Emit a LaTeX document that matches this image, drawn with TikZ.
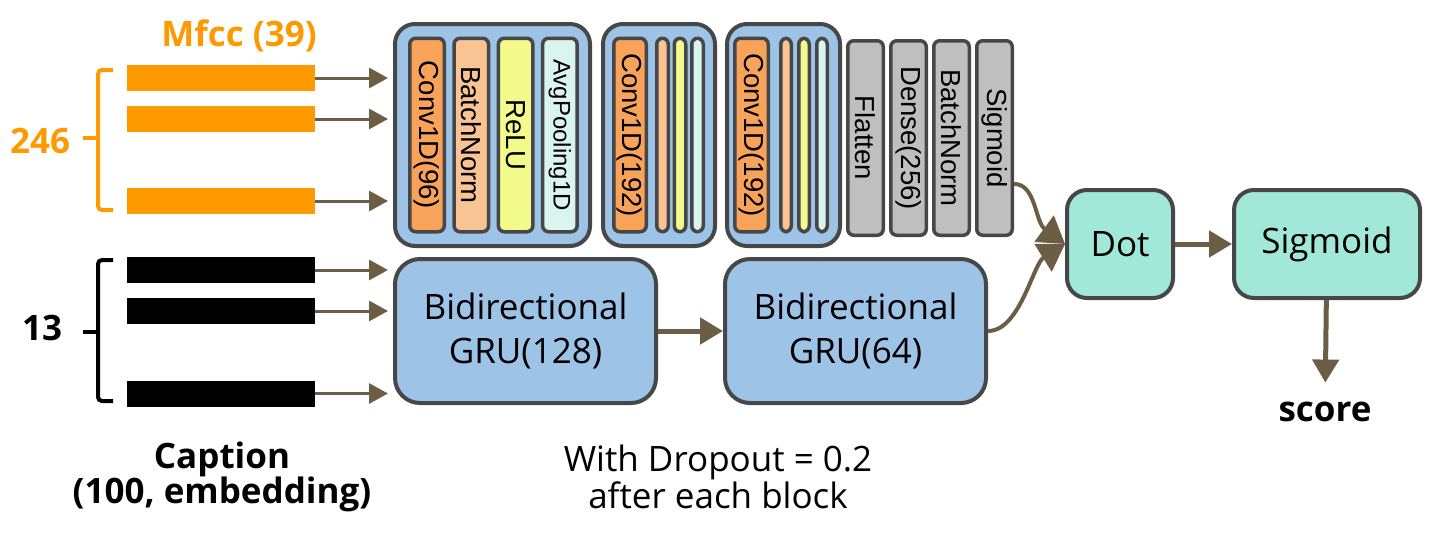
\documentclass[tikz,border=0pt]{standalone}
\usepackage{fontspec}
\setmainfont{Open Sans}
\newfontfamily\layerfont{Liberation Sans}
\usepackage{graphicx}
\usetikzlibrary{arrows.meta, positioning}
\definecolor{mfcc}{HTML}{FF9900}
\definecolor{edge}{HTML}{474747}
\definecolor{blockblue}{HTML}{9DC3E6}
\definecolor{convc}{HTML}{F9A25A}
\definecolor{bnc}{HTML}{F9C393}
\definecolor{reluc}{HTML}{F3FA8C}
\definecolor{poolc}{HTML}{DAF5F0}
\definecolor{densec}{HTML}{BFBFBF}
\definecolor{mint}{HTML}{A1E8D8}
\definecolor{wire}{HTML}{6B5E45}
\tikzstyle{block}=[rectangle, rounded corners=20pt, draw=edge, fill=blockblue, line width=4pt, inner sep=0]
\tikzstyle{layer}=[rectangle, rounded corners=6pt, draw=edge, line width=3.5pt, minimum width=34.5pt, minimum height=193.5pt, inner sep=0, font=\layerfont\fontsize{27.5}{27.5}\selectfont]
\tikzstyle{thin}=[layer, minimum width=11.5pt]
\tikzstyle{dense}=[layer, fill=densec, minimum width=35.5pt, minimum height=194.5pt]
\tikzstyle{gru}=[block, rounded corners=25pt, minimum width=261pt, minimum height=144pt, align=center, font=\fontsize{35}{44}\selectfont]
\tikzstyle{op}=[rectangle, rounded corners=20pt, draw=edge, fill=mint, line width=4pt, minimum height=108pt, font=\fontsize{35}{40}\selectfont]
\tikzstyle{bar}=[rectangle, minimum width=188pt, minimum height=26pt, inner sep=0]
\tikzstyle{feed}=[wire, line width=3pt, -{Triangle[length=19pt,width=20pt]}, shorten >=5pt]
\tikzstyle{flow}=[wire, line width=5pt, -{Triangle[length=23pt,width=26pt]}]
\tikzstyle{merge}=[wire, line width=4pt, -{Triangle[length=26pt,width=32pt]}]
\tikzstyle{brace}=[line width=4pt, rounded corners=4pt]
\tikzstyle{big}=[font=\bfseries\fontsize{35}{35}\selectfont]

\begin{document}
\begin{tikzpicture}[x=1pt, y=-1pt]
    \useasboundingbox (0,0) rectangle (1440,544);
    \node[bar, fill=mfcc] (mA) at (221,78) {};
    \node[bar, fill=mfcc] (mB) at (221,119) {};
    \node[bar, fill=mfcc] (mC) at (221,201) {};
    \node[bar, fill=black] (cA) at (221,270) {};
    \node[bar, fill=black] (cB) at (221,311) {};
    \node[bar, fill=black] (cC) at (221,393.5) {};
    \node[big, text=mfcc] (mfcclbl) at (239,36) {Mfcc (39)};
    \node[big, text=mfcc] (frames) at (40,141) {246};
    \node[big] (words) at (42,328) {13};
    \draw[brace, mfcc] (113,70) -- (98,70) -- (98,210) -- (113,210);
    \draw[brace, mfcc] (98,138) -- (83,138);
    \draw[brace] (113,260) -- (98,260) -- (98,401) -- (113,401);
    \draw[brace] (98,332) -- (83,332);

    \node[block, minimum width=195pt, minimum height=222pt] (cnnA) at (492.5,135) {};
    \node[layer, fill=convc, anchor=west] (convA) at ([xshift=15pt]cnnA.west) {\rotatebox{-90}{Conv1D(96)}};
    \node[layer, fill=bnc, right=6.3pt of convA] (bnA) {\rotatebox{-90}{BatchNorm}};
    \node[layer, fill=reluc, right=6.3pt of bnA] (reluA) {\rotatebox{-90}{ReLU}};
    \node[layer, fill=poolc, right=6.3pt of reluA, font=\layerfont\fontsize{24}{24}\selectfont] (poolA) {\rotatebox{-90}{AvgPooling1D}};

    \node[block, minimum width=112pt, minimum height=222pt] (cnnB) at (659,135) {};
    \node[layer, fill=convc, minimum width=32.5pt, anchor=west] (convB) at ([xshift=11pt]cnnB.west) {\rotatebox{-90}{Conv1D(192)}};
    \node[thin, fill=bnc, right=7pt of convB] (bnB) {};
    \node[thin, fill=reluc, right=2.5pt of bnB] (reluB) {};
    \node[thin, fill=poolc, right=2.5pt of reluB] (poolB) {};

    \node[block, minimum width=113pt, minimum height=222pt] (cnnC) at (783.5,135) {};
    \node[layer, fill=convc, minimum width=33.5pt, anchor=west] (convC) at ([xshift=8pt]cnnC.west) {\rotatebox{-90}{Conv1D(192)}};
    \node[thin, fill=bnc, minimum width=10.5pt, right=9pt of convC] (bnC) {};
    \node[thin, fill=reluc, minimum width=10.5pt, right=4pt of bnC] (reluC) {};
    \node[thin, fill=poolc, minimum width=10.5pt, right=4pt of reluC] (poolC) {};

    \node[dense] (flat) at (865.5,138) {\rotatebox{-90}{Flatten}};
    \node[dense, right=4pt of flat] (fc) {\rotatebox{-90}{Dense(256)}};
    \node[dense, right=4pt of fc] (bnD) {\rotatebox{-90}{BatchNorm}};
    \node[dense, right=4pt of bnD] (sgm) {\rotatebox{-90}{Sigmoid}};

    \node[gru] (gruA) at (525.5,331) {Bidirectional\\GRU(128)};
    \node[gru, right=65pt of gruA] (gruB) {Bidirectional\\GRU(64)};

    \node[op, minimum width=106pt] (dot) at (1120,244) {Dot};
    \node[op, minimum width=186pt, right=57pt of dot] (sig) {Sigmoid};
    \node[big] (score) at (1325,412) {score};

    \node[big, align=center] (caption) at (222,477) {Caption\\(100, embedding)};
    \node[align=center, font=\fontsize{35}{37}\selectfont] (dropout) at (718,477) {With Dropout = 0.2\\after each block};

    \foreach \b in {mA,mB,mC} \draw[feed] (\b) -- (\b -| cnnA.west);
    \foreach \b in {cA,cB,cC} \draw[feed] (\b) -- (\b -| gruA.west);
    \draw[flow] (gruA) -- (gruB);
    \draw[flow] (dot) -- (sig);
    \draw[flow, shorten >=16pt] (sig) -- (score);
    \draw[merge] (sgm.-67) .. controls +(22,0) and +(-30,-22) .. (dot.west);
    \draw[merge] (gruB.east) .. controls +(32,0) and +(-32,20) .. (dot.west);
\end{tikzpicture}
\end{document}
